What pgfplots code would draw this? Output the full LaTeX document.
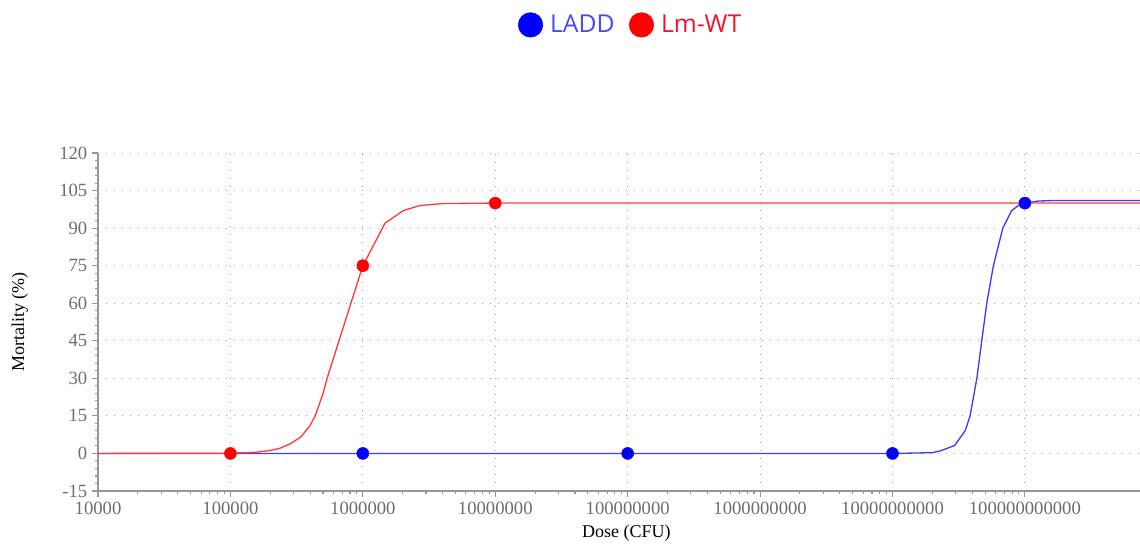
\documentclass[border=0pt]{standalone}
\usepackage{pgfplots}
\pgfplotsset{compat=1.18}
\usepackage{fontspec}
\setmainfont{Liberation Serif}
\newfontfamily\legendfont{Open Sans}
\definecolor{ptblue}{RGB}{0,0,255}
\definecolor{ptred}{RGB}{255,0,0}
\definecolor{lnblue}{RGB}{60,60,255}
\definecolor{lnred}{RGB}{255,60,60}
\definecolor{txblue}{RGB}{70,70,255}
\definecolor{txred}{RGB}{240,20,40}
\definecolor{axgray}{RGB}{150,150,150}
\definecolor{tkgray}{RGB}{110,110,110}
\begin{document}
\begin{tikzpicture}
\useasboundingbox (0,0) rectangle (855pt,408pt);
\begin{axis}[
  at={(73.5pt,39.75pt)}, anchor=south west,
  scale only axis, width=781.5pt, height=253.5pt,
  xmode=log, xmin=1e4, xmax=7.4e11,
  ymin=-15, ymax=120,
  ytick={-15,0,15,30,45,60,75,90,105,120},
  minor y tick num=4,
  xtick={1e4,1e5,1e6,1e7,1e8,1e9,1e10,1e11},
  xticklabels={10000,100000,1000000,10000000,100000000,1000000000,10000000000,100000000000},
  axis x line*=bottom, axis y line*=left,
  axis line style={axgray, line width=1pt},
  tick style={axgray, line width=0.8pt},
  tick align=outside,
  major tick length=4.5pt, minor tick length=2.2pt,
  grid=major,
  major grid style={dash pattern=on 0.9pt off 5.1pt, gray!75, line width=0.75pt},
  /pgf/number format/assume math mode=true,
  ticklabel style={font=\fontsize{14}{16}\selectfont, text=tkgray},
  xlabel={Dose (CFU)}, ylabel={Mortality (\%)},
  label style={font=\fontsize{13.5}{16}\selectfont, text=black},
  xlabel style={at={(axis description cs:0.507,-0.124)}, anchor=center},
  ylabel style={at={(axis description cs:-0.075,0.5)}, anchor=center, rotate=0},
  legend style={draw=none, fill=none, at={(0.5116,1.379)}, anchor=center,
    font=\legendfont\fontsize{18.5}{21}\selectfont,
    /tikz/every odd column/.append style={column sep=3.5pt},
    /tikz/every even column/.append style={column sep=9pt}},
  legend columns=2,
  legend cell align=left,
  clip=false,
]
\addlegendimage{only marks, mark=*, mark size=9.2pt, ptblue}
\addlegendimage{only marks, mark=*, mark size=9.2pt, ptred}
% LADD fitted line
\addplot[lnblue, line width=1pt, no marks] coordinates {
(1e4,0) (1e10,0) (1.9953e10,0.3) (2.2909e10,1.0) (2.9512e10,3.2)
(3.5481e10,9.2) (3.8548e10,15) (4.3351e10,30) (4.7206e10,45)
(5.1523e10,60) (5.7810e10,75) (6.8077e10,90) (7.9433e10,97)
(8.9125e10,99) (1e11,100) (1.2589e11,100.8) (1.5849e11,101) (7.4e11,101)
};
% Lm-WT fitted line
\addplot[lnred, line width=1pt, no marks] coordinates {
(1e4,0) (1e5,0.1) (1.5849e5,0.5) (1.9953e5,1.2) (2.3442e5,2.0)
(2.8184e5,3.8) (3.3884e5,6.5) (3.9811e5,11) (4.3652e5,15)
(5.0119e5,24) (5.3703e5,30) (6.6069e5,45) (8.1283e5,60)
(1e6,75) (1.4723e6,92) (2.0230e6,97) (2.6915e6,99)
(3.9811e6,99.8) (1e7,100) (7.4e11,100)
};
% data points
\addplot[only marks, mark=*, mark size=4.5pt, ptblue] coordinates {
(1e6,0) (1e8,0) (1e10,0) (1e11,100)
};
\addplot[only marks, mark=*, mark size=4.5pt, ptred] coordinates {
(1e5,0) (1e6,75) (1e7,100)
};
\legend{\textcolor{txblue}{LADD},\textcolor{txred}{Lm-WT}}
\end{axis}
\end{tikzpicture}
\end{document}
